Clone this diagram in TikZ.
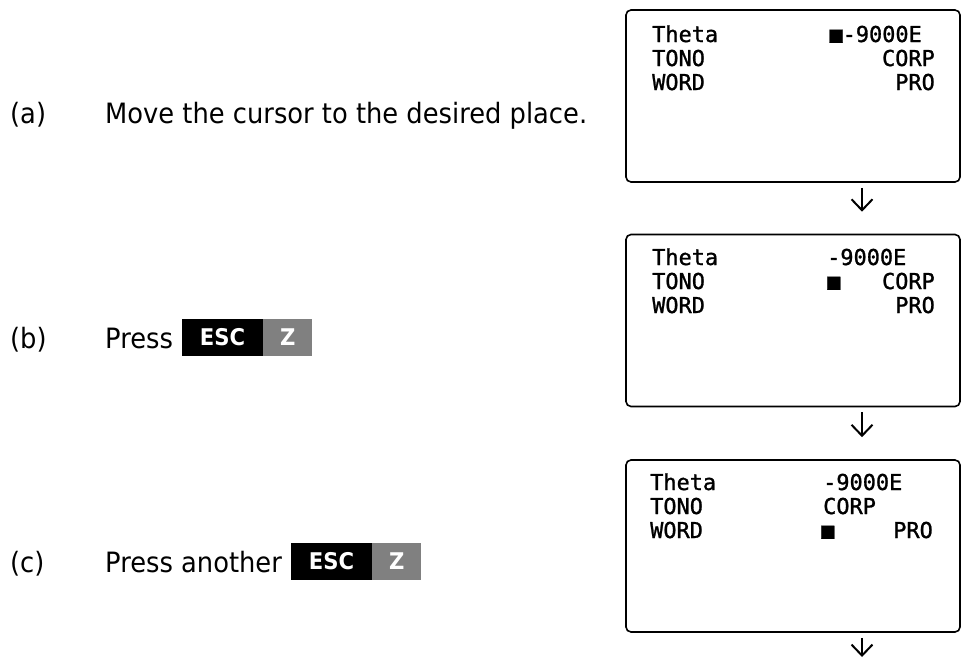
\documentclass[tikz,border=0pt]{standalone}
\usepackage{fontspec}
\usetikzlibrary{arrows.meta,positioning}
\newfontfamily\lcdfont[FakeBold=1.2]{DejaVu Sans Mono}
\newfontfamily\labelfont[FakeStretch=0.92]{DejaVu Sans}
\begin{document}
\begin{tikzpicture}[x=1pt,y=-1pt,
        screen/.style={draw, line width=1.6pt, rounded corners=5pt,
            minimum width=334pt, minimum height=172pt, inner sep=0pt},
        lcd/.style={font=\lcdfont\fontsize{21.9}{24}\selectfont, inner sep=0pt},
        steptext/.style={font=\labelfont\fontsize{28}{32}\selectfont,
            inner sep=0pt, anchor=base west},
        keyesc/.style={fill=black, text=white, minimum width=81pt,
            minimum height=37pt, inner sep=0pt,
            font=\labelfont\bfseries\fontsize{23}{26}\selectfont},
        keyz/.style={keyesc, fill=gray, minimum width=49pt},
        downarrow/.style={-{Straight Barb[length=11pt,width=21pt]}, line width=2pt}]
        \useasboundingbox (0,0) rectangle (962,664);

        % Telas
        \node[screen] (scrA) at (793,96) {};
        \node[screen] (scrB) at (793,320.5) {};
        \node[screen] (scrC) at (793,546) {};

        % Setas entre as telas
        \draw[downarrow, shorten <=5pt, shorten >=22pt]
        ([xshift=69pt]scrA.south) -- ([xshift=69pt]scrB.north);
        \draw[downarrow, shorten <=5pt, shorten >=22pt]
        ([xshift=69pt]scrB.south) -- ([xshift=69pt]scrC.north);
        \coordinate (endC) at (862,657);
        \draw[downarrow] ([xshift=69pt,yshift=-5pt]scrC.south) -- (endC);

        % Conteudo da tela (a)
        \node[lcd, anchor=base west] (thetaA) at (652,42) {Theta};
        \node[lcd, anchor=base west] (tonoA) at (652,66) {TONO};
        \node[lcd, anchor=base west] (wordA) at (652,90) {WORD};
        \node[lcd, anchor=base east] (valA) at (922,42) {■-9000E};
        \node[lcd, anchor=base east] (corpA) at (935,66) {CORP};
        \node[lcd, anchor=base east] (proA) at (935,90) {PRO};

        % Conteudo da tela (b)
        \node[lcd, anchor=base west] (thetaB) at (652,265) {Theta};
        \node[lcd, anchor=base west] (tonoB) at (652,289) {TONO};
        \node[lcd, anchor=base west] (wordB) at (652,313) {WORD};
        \node[lcd, anchor=base west] (valB) at (827,265) {-9000E};
        \node[lcd, anchor=base west] (curB) at (827,289) {■};
        \node[lcd, anchor=base east] (corpB) at (935,289) {CORP};
        \node[lcd, anchor=base east] (proB) at (935,313) {PRO};

        % Conteudo da tela (c)
        \node[lcd, anchor=base west] (thetaC) at (650,490) {Theta};
        \node[lcd, anchor=base west] (tonoC) at (650,514) {TONO};
        \node[lcd, anchor=base west] (wordC) at (650,538) {WORD};
        \node[lcd, anchor=base west] (valC) at (823,490) {-9000E};
        \node[lcd, anchor=base west] (corpC) at (823,514) {CORP};
        \node[lcd, anchor=base west] (curC) at (821,538) {■};
        \node[lcd, anchor=base east] (proC) at (933,538) {PRO};

        % Passos
        \node[steptext] (labA) at (10,123) {(a)};
        \node[steptext] (stepA) at (105,123) {Move the cursor to the desired place.};

        \node[steptext] (labB) at (10,348) {(b)};
        \node[steptext] (stepB) at (105,348) {Press};
        \node[keyesc] (escB) at (222.5,337.5) {ESC};
        \node[keyz, right=0pt of escB] (zB) {Z};

        \node[steptext] (labC) at (10,572) {(c)};
        \node[steptext] (stepC) at (105,572) {Press another};
        \node[keyesc] (escC) at (331.5,561.5) {ESC};
        \node[keyz, right=0pt of escC] (zC) {Z};
    \end{tikzpicture}
\end{document}
